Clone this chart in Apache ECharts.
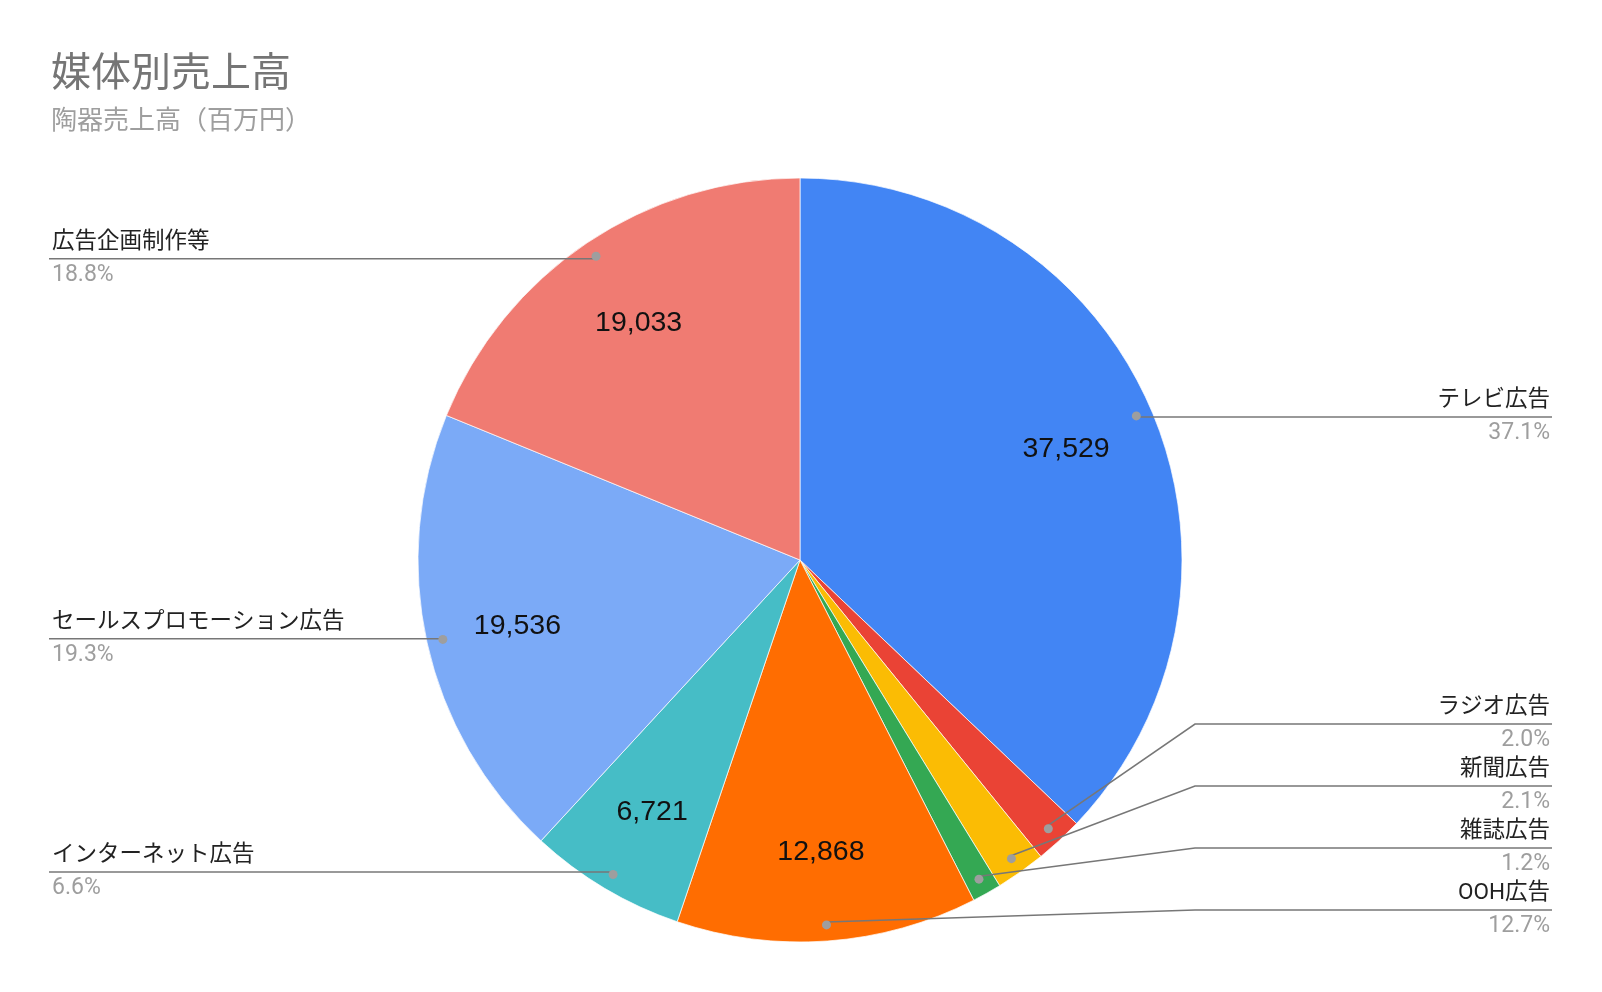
<!DOCTYPE html>
<html><head><meta charset="utf-8">
<script src="https://cdn.jsdelivr.net/npm/echarts@6/dist/echarts.min.js"></script>
<style>html,body{margin:0;padding:0;background:#fff}#c{width:1602px;height:992px}</style>
</head><body><div id="c"></div>
<script>
// ---- data ----
const categories = ['テレビ広告', 'ラジオ広告', '新聞広告', '雑誌広告', 'OOH広告', 'インターネット広告', 'セールスプロモーション広告', '広告企画制作等'];
const values = [37529, 2050, 2130, 1250, 12868, 6721, 19536, 19033];
const colors = ['#4285F4', '#EA4335', '#FBBC04', '#34A853', '#FF6D01', '#46BDC6', '#7BAAF7', '#F07B72'];
const titleText = '媒体別売上高';
const subtitleText = '陶器売上高（百万円）';

// ---- layout constants ----
const CX = 800, CY = 560, R = 382, DOT_R = R * 0.95;
const FONT = "Roboto, 'Noto Sans CJK JP', sans-serif";
const NUM_FONT = "'Liberation Sans', Arial, sans-serif";
const RIGHT_TEXT_X = 1550, LEFT_TEXT_X = 52, RIGHT_LINE_END = 1552, LEFT_LINE_END = 49;
const BEND_OFF = 13, GAP = 62, YMAX = CY + 350;

// derive label anchor positions from the data (same angles ECharts uses)
const total = values.reduce((a, b) => a + b, 0);
let acc = 0;
const info = values.map(v => {
  const a = (acc + v / 2) / total * 2 * Math.PI; acc += v;
  const dx = Math.sin(a), dy = -Math.cos(a);
  return { dx, dy, dot: [CX + DOT_R * dx, CY + DOT_R * dy], right: dx >= 0, y: CY + DOT_R * dy };
});
[true, false].forEach(side => {
  const items = info.filter(o => o.right === side).sort((a, b) => b.dot[1] - a.dot[1]);
  let prev = null;
  items.forEach(o => {
    let y = Math.min(o.dot[1], YMAX);
    if (prev) y = Math.min(y, prev.y - GAP);
    o.y = y; prev = o;
  });
});

const plain = () => categories.map((n, i) => ({ name: n, value: values[i] }));
const data = categories.map((n, i) => ({ name: n, value: values[i], itemStyle: { color: colors[i] } }));
const pct = v => (v / total * 100).toFixed(1);

const chart = echarts.init(document.getElementById('c'), null, { renderer: 'canvas' });
chart.setOption({
  animation: false,
  backgroundColor: '#fff',
  title: [
    { text: titleText, left: 51, top: 56, padding: 0, textStyle: { fontFamily: FONT, fontSize: 40, fontWeight: 'normal', color: '#757575' } },
    { text: subtitleText, left: 51, top: 109, padding: 0, textStyle: { fontFamily: FONT, fontSize: 26, fontWeight: 'normal', color: '#9e9e9e' } }
  ],
  series: [
    {
      // coloured slices
      type: 'pie', z: 2, center: [CX, CY], radius: [0, R], startAngle: 90, clockwise: true,
      silent: true, data: data,
      itemStyle: { borderColor: '#fff', borderWidth: 0.7 },
      label: { show: false }, labelLine: { show: false }
    },
    {
      // outside name / percent labels with leader lines
      type: 'pie', z: 5, center: [CX, CY], radius: [0, R], startAngle: 90, clockwise: true,
      avoidLabelOverlap: false, silent: true,
      data: plain(),
      itemStyle: { color: 'rgba(0,0,0,0)' },
      label: {
        show: true, position: 'outside', overflow: 'none',
        formatter: p => '{n|' + p.name + '}\n{p|' + pct(p.value) + '%}',
        rich: {
          n: { fontFamily: FONT, fontSize: 22.5, color: '#222', lineHeight: 33 },
          p: { fontFamily: FONT, fontSize: 23, color: '#9e9e9e', lineHeight: 33 }
        }
      },
      labelLine: { show: true, length: 10, length2: 10, lineStyle: { color: '#777', width: 1.6 } },
      labelLayout: function (params) {
        const o = info[params.dataIndex];
        if (o.right) {
          const bx = CX + R + BEND_OFF;
          return { x: RIGHT_TEXT_X, y: o.y, align: 'right', verticalAlign: 'middle',
            labelLinePoints: [o.dot.slice(), [bx, o.y], [RIGHT_LINE_END, o.y]] };
        } else {
          const bx = CX - R - BEND_OFF;
          return { x: LEFT_TEXT_X, y: o.y, align: 'left', verticalAlign: 'middle',
            labelLinePoints: [o.dot.slice(), [bx, o.y], [LEFT_LINE_END, o.y]] };
        }
      }
    },
    {
      // value labels (transparent ring so labels sit at ~0.75R)
      type: 'pie', z: 6, center: [CX, CY], radius: [R * 0.5, R], startAngle: 90, clockwise: true,
      silent: true, data: plain(),
      itemStyle: { color: 'rgba(0,0,0,0)' },
      label: {
        show: true, position: 'inside',
        fontFamily: NUM_FONT, fontSize: 28.5, color: '#111',
        formatter: p => p.percent < 3 ? '' : p.value.toLocaleString('en-US')
      },
      labelLine: { show: false },
      labelLayout: function (params) {
        const r = params.labelRect;
        return { x: r.x + r.width / 2, y: r.y + r.height / 2 + 3, align: 'center', verticalAlign: 'middle' };
      }
    },
    {
      // anchor dots at 0.95R
      type: 'pie', z: 7, center: [CX, CY], radius: [R * 0.9, R], startAngle: 90, clockwise: true,
      silent: true, data: plain(),
      itemStyle: { color: 'rgba(0,0,0,0)' },
      label: {
        show: true, position: 'inside', formatter: '{d|}',
        rich: { d: { width: 9, height: 9, borderRadius: 4.5, backgroundColor: '#9e9e9e' } }
      },
      labelLine: { show: false }
    }
  ]
});
</script>
</body></html>
